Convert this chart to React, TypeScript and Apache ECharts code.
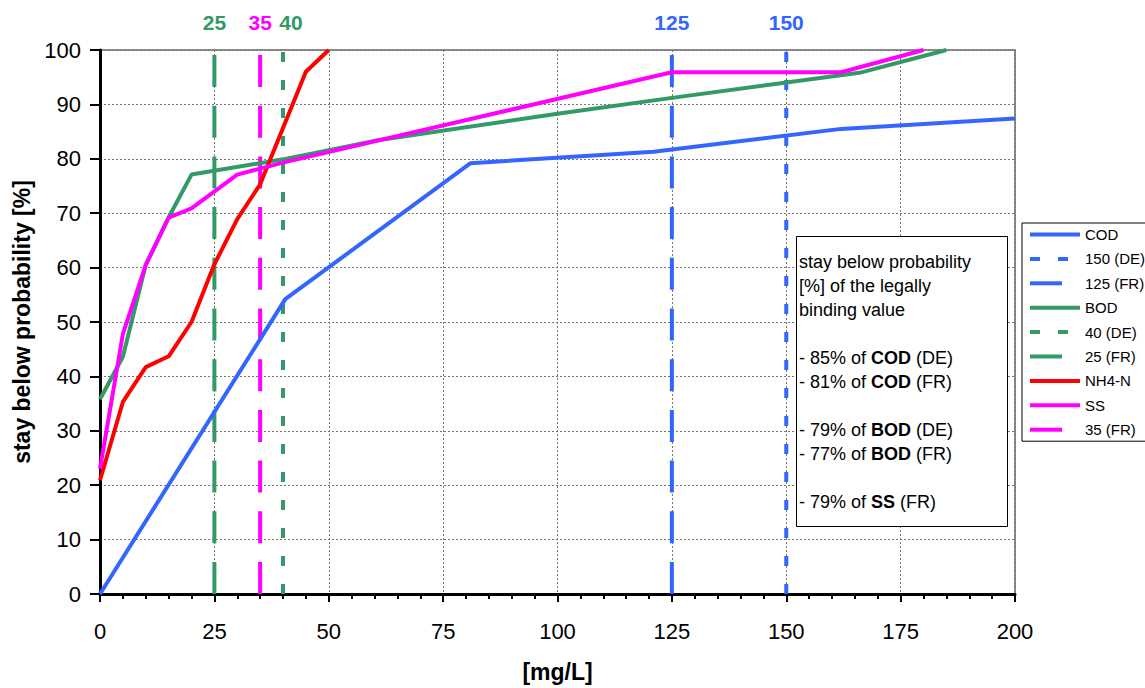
import React, { useEffect, useRef } from "react";
import * as echarts from "echarts";

const BLUE = "#3366FF";
const GREEN = "#339966";
const RED = "#FF0000";
const MAGENTA = "#FF00FF";
const FONT = "'Liberation Sans', Arial, Helvetica, sans-serif";

// measured curves: [mg/L, stay below probability %]
const codData = [[0, 0], [40.5, 54.2], [81, 79.2], [121, 81.3], [162, 85.5], [200, 87.4]];
const bodData = [[0, 35.8], [5, 43.6], [10, 60.5], [15, 69.2], [20, 77.1], [40, 79.9], [60, 83.3], [100, 88.3], [125, 91.2], [166, 95.8], [185, 100]];
const nh4Data = [[0, 20.9], [5, 35.3], [10, 41.7], [15, 43.7], [20, 50], [25, 60.6], [30, 68.9], [35, 75.3], [45, 96], [50, 100]];
const ssData = [[0, 23], [5, 47.8], [10, 60.5], [15, 69.2], [20, 70.9], [30, 77.1], [40, 79.3], [125, 95.9], [162, 95.9], [180, 100]];

// legally binding values (vertical reference lines)
const limitNames = ["150 (DE)", "125 (FR)", "40 (DE)", "25 (FR)", "35 (FR)"];
const limitValues = [150, 125, 40, 25, 35];
const limitColors = [BLUE, BLUE, GREEN, GREEN, MAGENTA];
const limitDotted = [true, false, true, false, false];
const limitLabelShift = [0, 0, 8, 0, 0];

const legendOrder = ["COD", "150 (DE)", "125 (FR)", "BOD", "40 (DE)", "25 (FR)", "NH4-N", "SS", "35 (FR)"];

const xTicks = { min: 0, max: 200, interval: 25 };
const yTicks = { min: 0, max: 100, interval: 10 };

const noteLines = [
  "stay below probability",
  "[%] of the legally",
  "binding value",
  "",
  "- 85% of {b|COD} (DE)",
  "- 81% of {b|COD} (FR)",
  "",
  "- 79% of {b|BOD} (DE)",
  "- 77% of {b|BOD} (FR)",
  "",
  "- 79% of {b|SS} (FR)",
];

function curve(name: string, data: number[][], color: string) {
  return {
    name,
    type: "line",
    data,
    symbol: "none",
    lineStyle: { color, width: 4 },
    itemStyle: { color },
    z: 3,
  };
}

function limitSeries(i: number) {
  const v = limitValues[i];
  return {
    name: limitNames[i],
    type: "line",
    data: [[v, yTicks.min], [v, yTicks.max]],
    symbol: "none",
    lineStyle: {
      color: limitColors[i],
      width: 4,
      type: limitDotted[i] ? [10, 18] : [32, 18.7],
    },
    itemStyle: { color: limitColors[i] },
    z: 2,
  };
}

export default function App() {
  const ref = useRef<HTMLDivElement>(null);
  useEffect(() => {
    const chart = echarts.init(ref.current!, null, { renderer: "svg" });
    const byName: Record<string, any> = {
      COD: curve("COD", codData, BLUE),
      BOD: curve("BOD", bodData, GREEN),
      "NH4-N": curve("NH4-N", nh4Data, RED),
      SS: curve("SS", ssData, MAGENTA),
    };
    limitNames.forEach((n, i) => (byName[n] = limitSeries(i)));
    const series = legendOrder.map((n) => byName[n]);

    chart.setOption({
      animation: false,
      backgroundColor: "#ffffff",
      textStyle: { fontFamily: FONT },
      grid: {
        left: 100,
        right: 130,
        top: 50,
        bottom: 92,
        show: true,
        borderColor: "#8c8c8c",
        borderWidth: 2,
        backgroundColor: "transparent",
      },
      legend: {
        data: legendOrder,
        orient: "vertical",
        left: 1022,
        top: 223,
        padding: [4, 6, 4, 6],
        itemWidth: 50,
        itemHeight: 14,
        itemGap: 9.4,
        borderColor: "#000",
        borderWidth: 1,
        backgroundColor: "#fff",
        itemStyle: { opacity: 0, borderWidth: 0 },
        lineStyle: { width: 4 },
        textStyle: { fontSize: 15, color: "#000", fontFamily: FONT },
        selectedMode: false,
      },
      xAxis: {
        type: "value",
        min: xTicks.min,
        max: xTicks.max,
        interval: xTicks.interval,
        name: "[mg/L]",
        nameLocation: "middle",
        nameGap: 66,
        nameTextStyle: { fontSize: 23, fontWeight: "bold", color: "#000", fontFamily: FONT },
        axisLine: { show: true, onZero: false, lineStyle: { color: "#000", width: 3 } },
        axisTick: { show: true, inside: false, length: 8, lineStyle: { color: "#000", width: 2 } },
        minorTick: { show: true, splitNumber: 5, length: 5, lineStyle: { color: "#000", width: 2 } },
        axisLabel: { fontSize: 22, color: "#000", margin: 26, fontFamily: FONT },
        splitLine: { show: true, lineStyle: { color: "#777", width: 1, type: [2, 2] } },
      },
      yAxis: {
        type: "value",
        min: yTicks.min,
        max: yTicks.max,
        interval: yTicks.interval,
        name: "stay below probability [%]",
        nameLocation: "middle",
        nameRotate: 90,
        nameGap: 62,
        nameTextStyle: { fontSize: 23, fontWeight: "bold", color: "#000", fontFamily: FONT },
        axisLine: { show: true, onZero: false, lineStyle: { color: "#000", width: 3 } },
        axisTick: { show: true, inside: false, length: 10, lineStyle: { color: "#000", width: 2 } },
        axisLabel: { fontSize: 22, color: "#000", margin: 19, fontFamily: FONT },
        splitLine: { show: true, lineStyle: { color: "#777", width: 1, type: [2, 2] } },
      },
      series,
    });

    const labels = limitValues.map((v, i) => {
      const px = chart.convertToPixel({ xAxisIndex: 0 }, v) as number;
      return {
        type: "text",
        x: px + limitLabelShift[i],
        y: 22,
        z: 10,
        style: {
          text: String(v),
          fill: limitColors[i],
          font: `bold 21px ${FONT}`,
          align: "center",
          verticalAlign: "middle",
        },
      };
    });

    chart.setOption({
      graphic: [
        {
          type: "rect",
          z: 20,
          shape: { x: 796.5, y: 236.5, width: 211, height: 290 },
          style: { fill: "#fff", stroke: "#000", lineWidth: 1 },
        },
        {
          type: "text",
          z: 21,
          x: 799,
          y: 250,
          style: {
            text: noteLines.join("\n"),
            font: `18px ${FONT}`,
            fill: "#000",
            lineHeight: 24,
            align: "left",
            verticalAlign: "top",
            rich: {
              b: { fontWeight: "bold", fontSize: 18, fontFamily: FONT, lineHeight: 24 },
            },
          },
        },
        ...labels,
      ],
    });

    return () => chart.dispose();
  }, []);
  return (
    <div
      ref={ref}
      style={{ position: "absolute", left: 0, top: 0, width: 1145, height: 688 }}
    />
  );
}
